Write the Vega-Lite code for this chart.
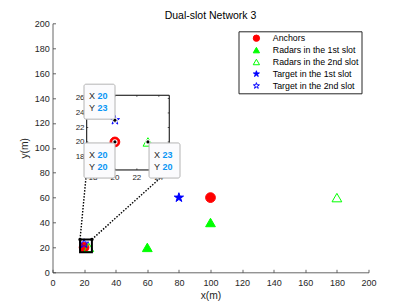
{
  "$schema": "https://vega.github.io/schema/vega-lite/v6.json",
  "width": 316,
  "height": 249,
  "autosize": "none",
  "padding": {"left": 52.5, "top": 23.3, "right": 38.5, "bottom": 33.7},
  "background": "white",
  "title": {"text": "Dual-slot Network 3", "fontSize": 10.5, "fontWeight": "normal", "font": "Liberation Sans", "color": "#000000", "offset": -2, "anchor": "middle"},
  "config": {
    "view": {"stroke": null},
    "axis": {"grid": false, "domainColor": "#404040", "domainWidth": 0.8, "tickColor": "#404040", "tickWidth": 0.8, "tickSize": -3, "labelFont": "Liberation Sans", "labelFontSize": 9, "labelColor": "#262626", "titleFont": "Liberation Sans", "titleFontSize": 10.3, "titleFontWeight": "normal", "titleColor": "#262626", "labelFlush": false, "labelOverlap": false},
    "axisX": {"labelPadding": 8.7, "titlePadding": 3.5},
    "axisY": {"labelPadding": 6.2, "titlePadding": 5},
    "legend": {"labelFont": "Liberation Sans", "labelFontSize": 8.8, "labelColor": "#000000", "symbolSize": 40, "rowPadding": 0.9, "padding": 2.5, "symbolOffset": 11, "labelOffset": 12, "symbolStrokeWidth": 1, "strokeColor": "#262626", "fillColor": "white", "cornerRadius": 0, "offset": 7.5}
  },
  "encoding": {
    "x": {"field": "x", "type": "quantitative", "title": "x(m)", "scale": {"domain": [0, 200], "nice": false, "zero": false}, "axis": {"values": [0, 20, 40, 60, 80, 100, 120, 140, 160, 180, 200]}},
    "y": {"field": "y", "type": "quantitative", "title": "y(m)", "scale": {"domain": [0, 200], "nice": false, "zero": false}, "axis": {"values": [0, 20, 40, 60, 80, 100, 120, 140, 160, 180, 200]}}
  },
  "layer": [
    {
      "data": {"values": [
        {"series": "Anchors", "x": 20, "y": 20},
        {"series": "Anchors", "x": 100, "y": 60},
        {"series": "Radars in the 1st slot", "x": 60, "y": 20},
        {"series": "Radars in the 1st slot", "x": 100, "y": 40},
        {"series": "Radars in the 2nd slot", "x": 23, "y": 20},
        {"series": "Radars in the 2nd slot", "x": 180, "y": 60},
        {"series": "Target in the 1st slot", "x": 80, "y": 60},
        {"series": "Target in the 2nd slot", "x": 20, "y": 23}
      ]},
      "mark": {"type": "point", "strokeWidth": 1, "opacity": 1},
      "encoding": {
        "size": {"value": 95},
        "shape": {"field": "series", "type": "nominal", "scale": {"domain": ["Anchors", "Radars in the 1st slot", "Radars in the 2nd slot", "Target in the 1st slot", "Target in the 2nd slot"], "range": ["circle", "triangle-up", "triangle-up", "M0,-1L0.2245,-0.309L0.951,-0.309L0.363,0.118L0.588,0.809L0,0.382L-0.588,0.809L-0.363,0.118L-0.951,-0.309L-0.2245,-0.309Z", "M0,-1L0.2245,-0.309L0.951,-0.309L0.363,0.118L0.588,0.809L0,0.382L-0.588,0.809L-0.363,0.118L-0.951,-0.309L-0.2245,-0.309Z"]},
          "legend": {"title": null, "orient": "top-right", "symbolSize": 40, "rowPadding": 0.9}},
        "fill": {"field": "series", "type": "nominal", "scale": {"domain": ["Anchors", "Radars in the 1st slot", "Radars in the 2nd slot", "Target in the 1st slot", "Target in the 2nd slot"], "range": ["#ff0000", "#00ff00", "transparent", "#0000ff", "transparent"]},
          "legend": {"title": null, "orient": "top-right", "symbolSize": 40, "rowPadding": 0.9}},
        "stroke": {"field": "series", "type": "nominal", "scale": {"domain": ["Anchors", "Radars in the 1st slot", "Radars in the 2nd slot", "Target in the 1st slot", "Target in the 2nd slot"], "range": ["#ff0000", "#00ff00", "#00ff00", "#0000ff", "#0000ff"]},
          "legend": {"title": null, "orient": "top-right", "symbolSize": 40, "rowPadding": 0.9}}
      }
    },
    {
      "data": {"values": [{"x": 17.43, "x2": 24.94, "y": 16.14, "y2": 26.44}]},
      "mark": {"type": "rect", "fill": null, "stroke": "#000000", "strokeWidth": 2},
      "encoding": {"x2": {"field": "x2"}, "y2": {"field": "y2"}}
    },
    {
      "data": {"values": [{"x": 17.43, "y": 26.44, "x2": 21.65, "y2": 82.2}, {"x": 24.94, "y": 26.44, "x2": 73.9, "y2": 82.2}]},
      "mark": {"type": "rule", "stroke": "#000000", "strokeWidth": 1.4, "strokeDash": [1.5, 1.5]},
      "encoding": {"x2": {"field": "x2"}, "y2": {"field": "y2"}}
    },
    {
      "data": {"values": [{"x": 17.43, "y": 26.44}, {"x": 24.94, "y": 26.44}]},
      "mark": {"type": "point", "shape": "circle", "filled": true, "color": "#000000", "size": 12, "opacity": 1},
      "encoding": {}
    },
    {
      "data": {"values": [{"x": 21.65, "x2": 73.9, "y": 82.2, "y2": 142.2}]},
      "mark": {"type": "rect", "fill": "#ffffff", "stroke": "#000000", "strokeWidth": 1},
      "encoding": {"x2": {"field": "x2"}, "y2": {"field": "y2"}}
    },
    {
      "data": {"values": [
        {"x": 25.6, "x2": 25.6, "y": 82.2, "y2": 83.4},
        {"x": 39.5, "x2": 39.5, "y": 82.2, "y2": 83.4},
        {"x": 53.4, "x2": 53.4, "y": 82.2, "y2": 83.4},
        {"x": 67.3, "x2": 67.3, "y": 82.2, "y2": 83.4},
        {"x": 25.6, "x2": 25.6, "y": 142.2, "y2": 141.0},
        {"x": 39.5, "x2": 39.5, "y": 142.2, "y2": 141.0},
        {"x": 53.4, "x2": 53.4, "y": 142.2, "y2": 141.0},
        {"x": 67.3, "x2": 67.3, "y": 142.2, "y2": 141.0},
        {"x": 21.65, "x2": 22.6, "y": 93.0, "y2": 93.0},
        {"x": 21.65, "x2": 22.6, "y": 104.7, "y2": 104.7},
        {"x": 21.65, "x2": 22.6, "y": 116.3, "y2": 116.3},
        {"x": 21.65, "x2": 22.6, "y": 128.0, "y2": 128.0},
        {"x": 21.65, "x2": 22.6, "y": 139.6, "y2": 139.6},
        {"x": 73.9, "x2": 72.95, "y": 93.0, "y2": 93.0},
        {"x": 73.9, "x2": 72.95, "y": 104.7, "y2": 104.7},
        {"x": 73.9, "x2": 72.95, "y": 116.3, "y2": 116.3},
        {"x": 73.9, "x2": 72.95, "y": 128.0, "y2": 128.0},
        {"x": 73.9, "x2": 72.95, "y": 139.6, "y2": 139.6}
      ]},
      "mark": {"type": "rule", "stroke": "#262626", "strokeWidth": 0.8},
      "encoding": {"x2": {"field": "x2"}, "y2": {"field": "y2"}}
    },
    {
      "data": {"values": [
        {"x": 25.6, "y": 75.7, "label": "18"},
        {"x": 39.5, "y": 75.7, "label": "20"},
        {"x": 53.4, "y": 75.7, "label": "22"},
        {"x": 67.3, "y": 75.7, "label": "24"}
      ]},
      "mark": {"type": "text", "align": "center", "baseline": "middle", "font": "Liberation Sans", "fontSize": 8, "color": "#262626"},
      "encoding": {"text": {"field": "label"}}
    },
    {
      "data": {"values": [
        {"x": 20.3, "y": 93.0, "label": "18"},
        {"x": 20.3, "y": 104.7, "label": "20"},
        {"x": 20.3, "y": 116.3, "label": "22"},
        {"x": 20.3, "y": 128.0, "label": "24"},
        {"x": 20.3, "y": 139.6, "label": "26"}
      ]},
      "mark": {"type": "text", "align": "right", "baseline": "middle", "font": "Liberation Sans", "fontSize": 8, "color": "#262626"},
      "encoding": {"text": {"field": "label"}}
    },
    {
      "data": {"values": [
        {"series": "Anchors", "x": 39.5, "y": 104.7},
        {"series": "Radars in the 2nd slot", "x": 60.4, "y": 104.7},
        {"series": "Target in the 2nd slot", "x": 39.5, "y": 122.2}
      ]},
      "mark": {"type": "point", "strokeWidth": 1, "opacity": 1},
      "encoding": {
        "size": {"value": 95},
        "shape": {"field": "series", "type": "nominal", "legend": null},
        "fill": {"field": "series", "type": "nominal", "legend": null},
        "stroke": {"field": "series", "type": "nominal", "legend": null}
      }
    },
    {
      "data": {"values": [{"x": 39.5, "y": 104.7}, {"x": 60.4, "y": 104.7}, {"x": 39.5, "y": 122.2}]},
      "mark": {"type": "point", "shape": "circle", "filled": true, "color": "#ffffff", "size": 28, "opacity": 1},
      "encoding": {}
    },
    {
      "data": {"values": [{"x": 39.5, "y": 104.7}, {"x": 60.4, "y": 104.7}, {"x": 39.5, "y": 122.2}]},
      "mark": {"type": "point", "shape": "circle", "filled": true, "color": "#000000", "size": 10, "opacity": 1},
      "encoding": {}
    },
    {
      "data": {"values": [
        {"x": 19.94, "x2": 39.56, "y": 151.1, "y2": 123.0},
        {"x": 19.94, "x2": 39.56, "y": 103.9, "y2": 75.7},
        {"x": 61.1, "x2": 80.7, "y": 103.9, "y2": 75.7}
      ]},
      "mark": {"type": "rect", "fill": "#fbfbfd", "stroke": "#b4b4b4", "strokeWidth": 1, "cornerRadius": 2},
      "encoding": {"x2": {"field": "x2"}, "y2": {"field": "y2"}}
    },
    {
      "data": {"values": [
        {"x": 23.1, "y": 142.0, "key": "X"},
        {"x": 23.1, "y": 132.0, "key": "Y"},
        {"x": 23.1, "y": 94.5, "key": "X"},
        {"x": 23.1, "y": 84.3, "key": "Y"},
        {"x": 64.2, "y": 94.5, "key": "X"},
        {"x": 64.2, "y": 84.3, "key": "Y"}
      ]},
      "mark": {"type": "text", "align": "left", "baseline": "middle", "font": "Liberation Sans", "fontSize": 9, "color": "#262626"},
      "encoding": {"text": {"field": "key"}}
    },
    {
      "data": {"values": [
        {"x": 28.5, "y": 142.0, "value": "20"},
        {"x": 28.5, "y": 132.0, "value": "23"},
        {"x": 28.5, "y": 94.5, "value": "20"},
        {"x": 28.5, "y": 84.3, "value": "20"},
        {"x": 69.6, "y": 94.5, "value": "23"},
        {"x": 69.6, "y": 84.3, "value": "20"}
      ]},
      "mark": {"type": "text", "align": "left", "baseline": "middle", "font": "Liberation Sans", "fontSize": 9, "fontWeight": "bold", "color": "#0a96f5"},
      "encoding": {"text": {"field": "value"}}
    }
  ]
}
